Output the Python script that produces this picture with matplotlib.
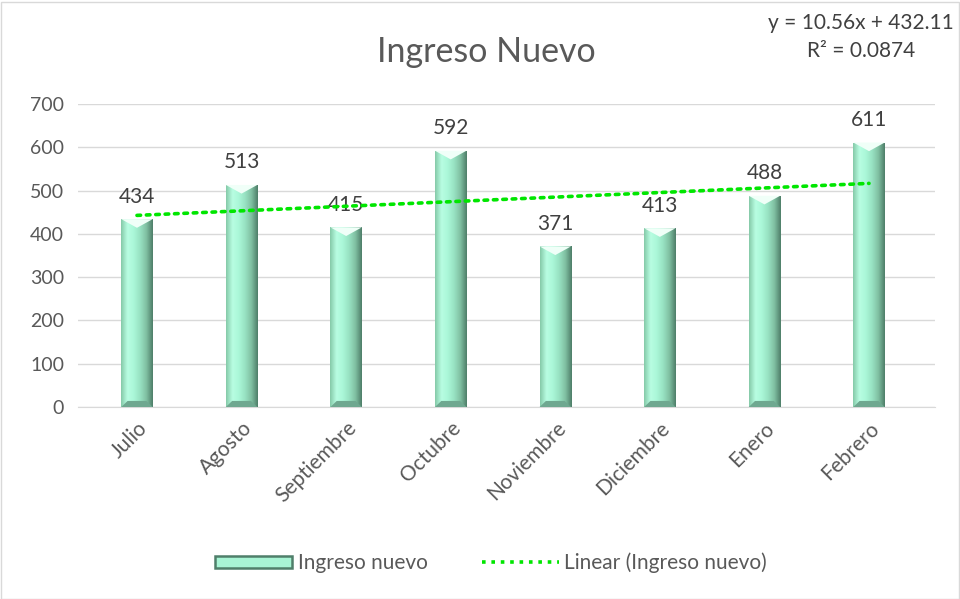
import matplotlib.pyplot as plt
import numpy as np
from matplotlib.patches import Polygon, Rectangle
from matplotlib.lines import Line2D
from matplotlib.colors import LinearSegmentedColormap

plt.rcParams['font.family'] = ['Lato', 'DejaVu Sans']

meses = ["Julio", "Agosto", "Septiembre", "Octubre", "Noviembre", "Diciembre", "Enero", "Febrero"]
ingreso = [434, 513, 415, 592, 371, 413, 488, 611]

gris = "#595959"
bar_w = 0.3

fig = plt.figure(figsize=(9.6, 5.99), dpi=100)
ax = fig.add_axes([78 / 960, 1 - 407 / 599, 857 / 960, 303 / 599])

x = np.arange(len(meses))
bars = ax.bar(x, ingreso, width=bar_w, color="#a8f0d0", zorder=2)

# horizontal gradient to mimic the bevelled Excel bars
cmap = LinearSegmentedColormap.from_list(
    "bevel", ["#86caa9", "#b8fde2", "#aaf7d8", "#98e2c2", "#80c0a2", "#4f7f6a"])
grad = np.linspace(0, 1, 64).reshape(1, -1)
for b in bars:
    x0, w, h = b.get_x(), b.get_width(), b.get_height()
    im = ax.imshow(grad, cmap=cmap, aspect="auto", extent=[x0, x0 + w, 0, h],
                   zorder=3, interpolation="bilinear")
    im.set_clip_path(b)
    # top bevel (light triangle)
    bev = 20
    tri = Polygon([[x0, h], [x0 + w, h], [x0 + w / 2, h - bev]],
                  closed=True, facecolor="#f0fff8", edgecolor="none", zorder=4)
    ax.add_patch(tri)
    # bottom bevel (darker band)
    ax.add_patch(Polygon([[x0, 0], [x0 + w, 0], [x0 + w * 0.8, 14], [x0 + w * 0.2, 14]],
                         closed=True, facecolor="#6fa890", edgecolor="none", zorder=4))
    ax.annotate(str(h), (x0 + w / 2, h), xytext=(0, 9), textcoords="offset points",
                ha="center", va="bottom", fontsize=15, color="#404040")

# linear trend line
coef = np.polyfit(x + 1, ingreso, 1)
trend = np.polyval(coef, x + 1)
ax.plot(x, trend, linestyle=(0, (1, 1.6)), color="#00e600", linewidth=2.6,
        zorder=5, dash_capstyle="round")

ax.set_ylim(0, 700)
ax.set_xlim(-0.564, 7.631)
ax.set_yticks(range(0, 701, 100))
ax.set_xticks(x)
ax.set_xticklabels(meses, rotation=45, ha="right", rotation_mode="anchor")
ax.tick_params(axis="y", length=0, labelsize=14, colors=gris, pad=10)
ax.tick_params(axis="x", length=0, labelsize=15, colors=gris, pad=8)
ax.grid(axis="y", color="#d9d9d9", linewidth=1, zorder=0)
ax.set_axisbelow(True)
for s in ["top", "right", "left"]:
    ax.spines[s].set_visible(False)
ax.spines["bottom"].set_color("#d9d9d9")

fig.text(486 / 960, 1 - 52 / 599, "Ingreso Nuevo", ha="center", va="center",
         fontsize=24.5, color=gris)
fig.text(861 / 960, 1 - 37 / 599,
         f"y = {coef[0]:.2f}x + {coef[1]:.2f}\nR² = 0.0874",
         ha="center", va="center", fontsize=15, color="#404040", linespacing=1.5)

# legend
h_bar = Rectangle((0, 0), 1, 1, facecolor="#a8f5d5", edgecolor="#4f7f6a", linewidth=1.8)
h_line = Line2D([], [], linestyle=(0, (1, 1.6)), color="#00e600", linewidth=2.6)
fig.legend([h_bar, h_line], ["Ingreso nuevo", "Linear (Ingreso nuevo)"],
           loc="center", bbox_to_anchor=(491 / 960, 1 - 563 / 599), ncol=2,
           frameon=False, fontsize=15, labelcolor=gris, handlelength=3.7,
           handleheight=0.55, handletextpad=0.25, columnspacing=2.6)

fig.add_artist(Rectangle((0.5 / 960, 0.5 / 599), 958 / 960, 597 / 599,
                         transform=fig.transFigure, fill=False,
                         edgecolor="#d9d9d9", linewidth=1))

fig.savefig("out.png", dpi=100)
